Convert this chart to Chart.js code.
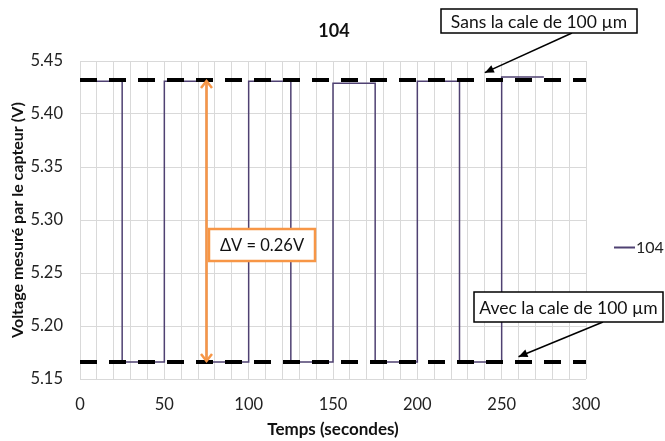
<!DOCTYPE html>
<html>
<head>
<meta charset="utf-8">
<script src="https://cdn.jsdelivr.net/npm/chart.js@4"></script>
<style>
  html, body { margin: 0; padding: 0; background: #fff; }
  #wrap { width: 665px; height: 441px; }
</style>
</head>
<body>
<div id="wrap"><canvas id="myChart" width="665" height="441"></canvas></div>
<script>
// data
const times = [0, 25, 50, 75, 100, 125, 150, 175, 200, 225, 250, 275];
const volts = [5.431, 5.166, 5.431, 5.166, 5.431, 5.166, 5.429, 5.166, 5.431, 5.166, 5.435, 5.435];
const highLevel = 5.432;   // "sans la cale"
const lowLevel = 5.166;    // "avec la cale"
const levelSpan = [0, 300];
const yTicks = [5.15, 5.20, 5.25, 5.30, 5.35, 5.40, 5.45];
const xLabels = [0, 50, 100, 150, 200, 250, 300];

const seriesName = '104';
const purple = '#4f4172';
const orange = '#f79646';
const FONT = 'Lato, "Open Sans", sans-serif';

function arrowHead(ctx, x1, y1, x2, y2, len, half) {
    const a = Math.atan2(y2 - y1, x2 - x1);
    ctx.beginPath();
    ctx.moveTo(x2, y2);
    ctx.lineTo(x2 - len * Math.cos(a) + half * Math.sin(a), y2 - len * Math.sin(a) - half * Math.cos(a));
    ctx.lineTo(x2 - len * Math.cos(a) - half * Math.sin(a), y2 - len * Math.sin(a) + half * Math.cos(a));
    ctx.closePath();
    ctx.fill();
}

function labelBox(ctx, text, x1, y1, x2, y2, color, lw, size) {
    ctx.fillStyle = '#fff';
    ctx.fillRect(x1, y1, x2 - x1, y2 - y1);
    ctx.strokeStyle = color;
    ctx.lineWidth = lw;
    ctx.strokeRect(x1, y1, x2 - x1, y2 - y1);
    ctx.fillStyle = '#111';
    ctx.font = size + 'px ' + FONT;
    ctx.textAlign = 'center';
    ctx.textBaseline = 'middle';
    ctx.fillText(text, (x1 + x2) / 2, (y1 + y2) / 2 + 1);
}

const extras = {
    id: 'extras',
    afterDraw(chart) {
        const ctx = chart.ctx;
        const xs = chart.scales.x, ys = chart.scales.y;
        ctx.save();

        // title
        ctx.fillStyle = '#111';
        ctx.font = 'bold 18px ' + FONT;
        ctx.textAlign = 'center';
        ctx.textBaseline = 'middle';
        ctx.fillText(seriesName, 334, 31);

        // legend
        ctx.strokeStyle = purple;
        ctx.lineWidth = 2;
        ctx.beginPath();
        ctx.moveTo(614, 247.5);
        ctx.lineTo(635, 247.5);
        ctx.stroke();
        ctx.fillStyle = '#222';
        ctx.font = '16px ' + FONT;
        ctx.textAlign = 'left';
        ctx.fillText(seriesName, 636, 248);

        // orange double arrow (delta V)
        const ax = xs.getPixelForValue(75);
        const yTop = ys.getPixelForValue(highLevel);
        const yBot = ys.getPixelForValue(lowLevel);
        ctx.strokeStyle = orange;
        ctx.lineWidth = 2.5;
        ctx.beginPath();
        ctx.moveTo(ax, yTop + 3);
        ctx.lineTo(ax, yBot - 3);
        ctx.stroke();
        ctx.beginPath();
        ctx.moveTo(ax - 5.5, yTop + 8); ctx.lineTo(ax, yTop + 1); ctx.lineTo(ax + 5.5, yTop + 8);
        ctx.moveTo(ax - 5.5, yBot - 8); ctx.lineTo(ax, yBot - 1); ctx.lineTo(ax + 5.5, yBot - 8);
        ctx.stroke();

        labelBox(ctx, '\u0394V = 0.26V', 209, 229, 315, 261, orange, 2.5, 16.5);

        // callouts
        ctx.strokeStyle = '#000';
        ctx.fillStyle = '#000';
        ctx.lineWidth = 1.5;
        const t1x = xs.getPixelForValue(240), t1y = ys.getPixelForValue(5.439);
        ctx.beginPath(); ctx.moveTo(572, 33); ctx.lineTo(t1x, t1y); ctx.stroke();
        arrowHead(ctx, 572, 33, t1x, t1y, 9, 4);
        const t2x = xs.getPixelForValue(260), t2y = ys.getPixelForValue(5.171);
        ctx.beginPath(); ctx.moveTo(603, 322); ctx.lineTo(t2x, t2y); ctx.stroke();
        arrowHead(ctx, 603, 322, t2x, t2y, 9, 4);

        labelBox(ctx, 'Sans la cale de 100 \u00b5m', 441, 9, 637, 33, '#000', 1.5, 17.5);
        labelBox(ctx, 'Avec la cale de 100 \u00b5m', 474, 292, 663, 322, '#000', 1.5, 17.5);

        ctx.restore();
    }
};

const ctx = document.getElementById('myChart').getContext('2d');

new Chart(ctx, {
    type: 'line',
    data: {
        datasets: [
            {
                label: 'sans',
                data: levelSpan.map(t => ({ x: t, y: highLevel })),
                borderColor: '#000',
                borderWidth: 4,
                borderDash: [17, 12],
                pointRadius: 0,
                order: 0
            },
            {
                label: 'avec',
                data: levelSpan.map(t => ({ x: t, y: lowLevel })),
                borderColor: '#000',
                borderWidth: 4,
                borderDash: [17, 12],
                pointRadius: 0,
                order: 0
            },
            {
                label: seriesName,
                data: times.map((t, i) => ({ x: t, y: volts[i] })),
                borderColor: purple,
                borderWidth: 1.5,
                stepped: 'before',
                pointRadius: 0,
                order: 1
            }
        ]
    },
    options: {
        responsive: false,
        animation: false,
        layout: { padding: { left: 0, right: 79, top: 61, bottom: 0 } },
        plugins: {
            legend: { display: false },
            title: { display: false },
            tooltip: { enabled: false }
        },
        scales: {
            x: {
                type: 'linear',
                min: 0,
                max: 300,
                ticks: {
                    stepSize: 10,
                    autoSkip: false,
                    maxRotation: 0,
                    padding: 16,
                    color: '#222',
                    font: { family: FONT, size: 16.5 },
                    callback: v => (xLabels.includes(v) ? String(v) : '')
                },
                grid: { color: '#d9d9d9', drawTicks: false },
                border: { display: false },
                title: {
                    display: true,
                    text: 'Temps (secondes)',
                    color: '#111',
                    font: { family: FONT, size: 17, weight: 'bold' },
                    padding: { top: 0, bottom: 1 }
                },
                afterFit: s => { s.height = 62; }
            },
            y: {
                min: yTicks[0],
                max: yTicks[yTicks.length - 1],
                afterBuildTicks: s => { s.ticks = yTicks.map(v => ({ value: v })); },
                ticks: {
                    padding: 17,
                    color: '#222',
                    font: { family: FONT, size: 16.5 },
                    callback: v => v.toFixed(2)
                },
                grid: { color: '#d9d9d9', drawTicks: false },
                border: { display: false },
                title: {
                    display: true,
                    text: 'Voltage mesur\u00e9 par le capteur (V)',
                    color: '#111',
                    font: { family: FONT, size: 16, weight: 'bold' },
                    padding: { top: 8, bottom: 0 }
                },
                afterFit: s => { s.width = 80; }
            }
        }
    },
    plugins: [extras]
});
</script>
</body>
</html>
